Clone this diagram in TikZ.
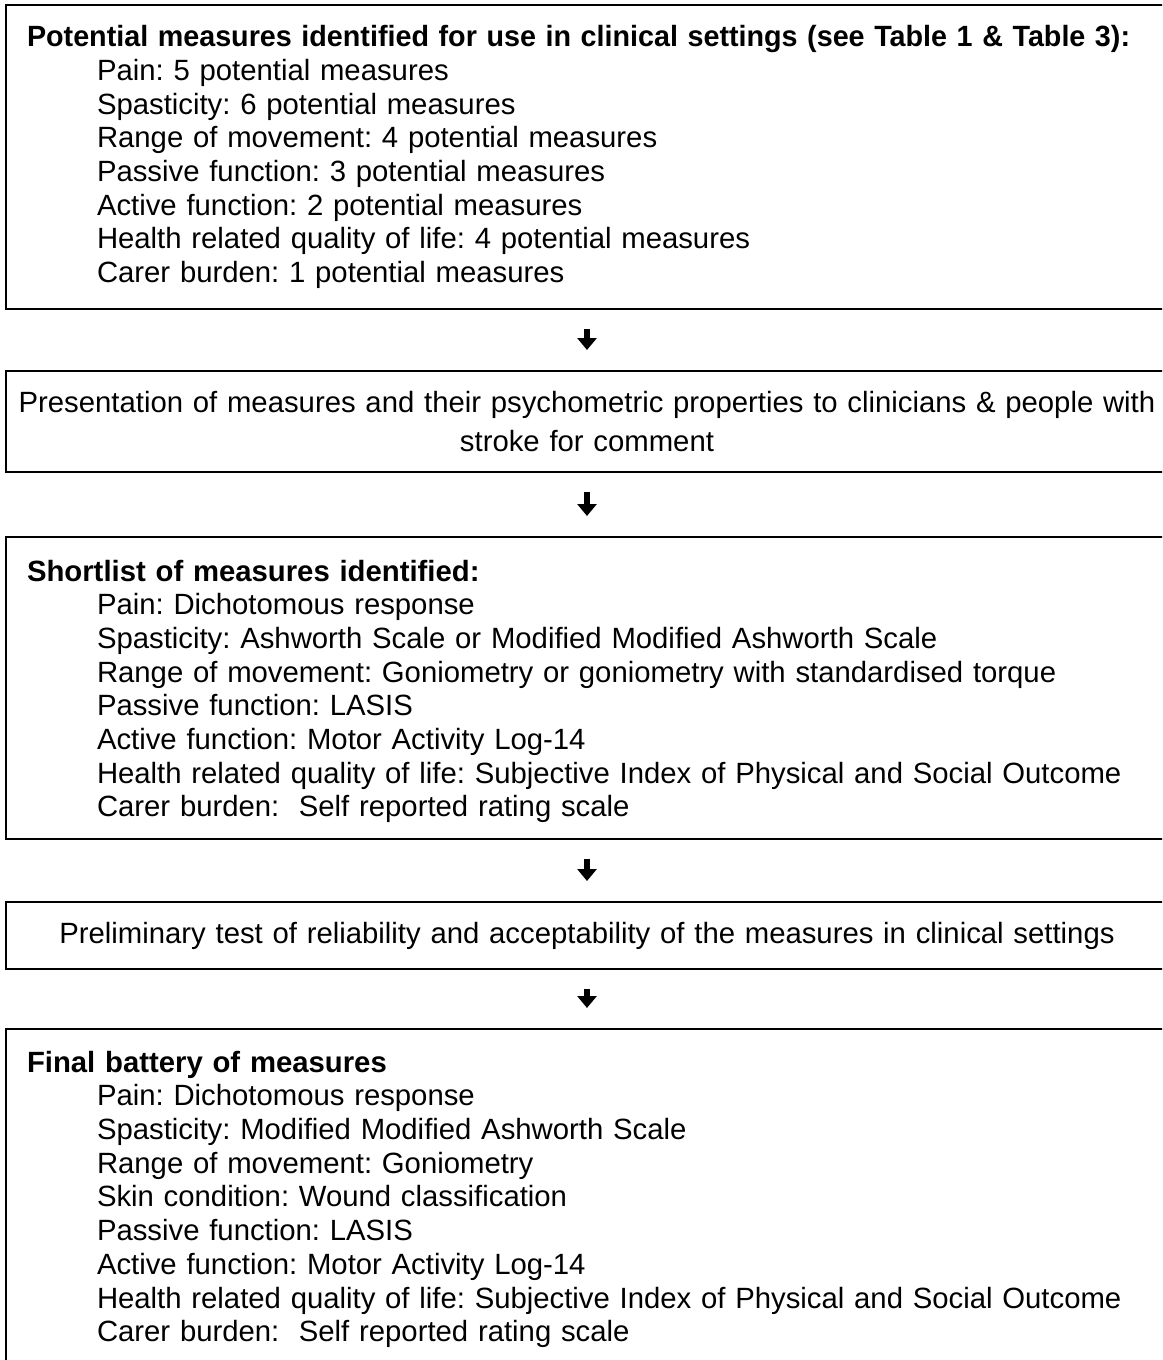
\documentclass[tikz,border=0pt]{standalone}
\usepackage{fontspec}
\usepackage{graphicx}
\setmainfont{Liberation Sans}
\usetikzlibrary{arrows.meta}
\frenchspacing
\hyphenpenalty=10000

\begin{document}
\begin{tikzpicture}[x=0.5pt,y=0.5pt,
    box/.style={draw,line width=1pt,minimum width=581pt,text width=560pt,inner xsep=10.5pt,inner ysep=0pt,font=\fontsize{14.65}{16.85}\selectfont},
    wide/.style={box,align=center,text width=578pt,inner xsep=1.5pt},
    stream/.style={-{Triangle[width=9.5pt,length=6pt]},line width=3pt,shorten <=9.5pt,shorten >=10pt}]
    \useasboundingbox (0,0) rectangle (1162,-1360);
    \clip (0,0) rectangle (1162,-1360);

    % potential measures
    \node[box,align=left,minimum height=152pt] (pot) at (587,-157) {\scalebox{0.98}[1]{\textbf{Potential measures identified for use in clinical settings (see Table 1 \& Table 3):}}\\
        \hspace*{35pt}Pain: 5 potential measures\\
        \hspace*{35pt}Spasticity: 6 potential measures\\
        \hspace*{35pt}Range of movement: 4 potential measures\\
        \hspace*{35pt}Passive function: 3 potential measures\\
        \hspace*{35pt}Active function: 2 potential measures\\
        \hspace*{35pt}Health related quality of life: 4 potential measures\\
        \hspace*{35pt}Carer burden: 1 potential measures};

    % presentation
    \node[wide,minimum height=50.5pt] (pres) at (587,-421.5) {Presentation of measures and their psychometric properties to clinicians \& people with\\[2.5pt]
        stroke for comment};

    % shortlist
    \node[box,align=left,minimum height=151pt] (short) at (587,-688) {\rule{0pt}{14pt}\textbf{Shortlist of measures identified:}\\
        \hspace*{35pt}Pain: Dichotomous response\\
        \hspace*{35pt}Spasticity: Ashworth Scale or Modified Modified Ashworth Scale\\
        \hspace*{35pt}Range of movement: Goniometry or goniometry with standardised torque\\
        \hspace*{35pt}Passive function: LASIS\\
        \hspace*{35pt}Active function: Motor Activity Log-14\\
        \hspace*{35pt}Health related quality of life: Subjective Index of Physical and Social Outcome\\
        \hspace*{35pt}Carer burden: \ Self reported rating scale};

    % preliminary test
    \node[wide,minimum height=33.5pt] (test) at (587,-935.5) {Preliminary test of reliability and acceptability of the measures in clinical settings};

    % final battery
    \node[box,align=left,minimum height=167pt] (final) at (587,-1196) {\rule{0pt}{14pt}\textbf{Final battery of measures}\\
        \hspace*{35pt}Pain: Dichotomous response\\
        \hspace*{35pt}Spasticity: Modified Modified Ashworth Scale\\
        \hspace*{35pt}Range of movement: Goniometry\\
        \hspace*{35pt}Skin condition: Wound classification\\
        \hspace*{35pt}Passive function: LASIS\\
        \hspace*{35pt}Active function: Motor Activity Log-14\\
        \hspace*{35pt}Health related quality of life: Subjective Index of Physical and Social Outcome\\
        \hspace*{35pt}Carer burden: \ Self reported rating scale};

    \draw[stream] (pot.south) -- (pres.north);
    \draw[stream] (pres.south) -- (short.north);
    \draw[stream] (short.south) -- (test.north);
    \draw[stream] (test.south) -- (final.north);
\end{tikzpicture}
\end{document}
